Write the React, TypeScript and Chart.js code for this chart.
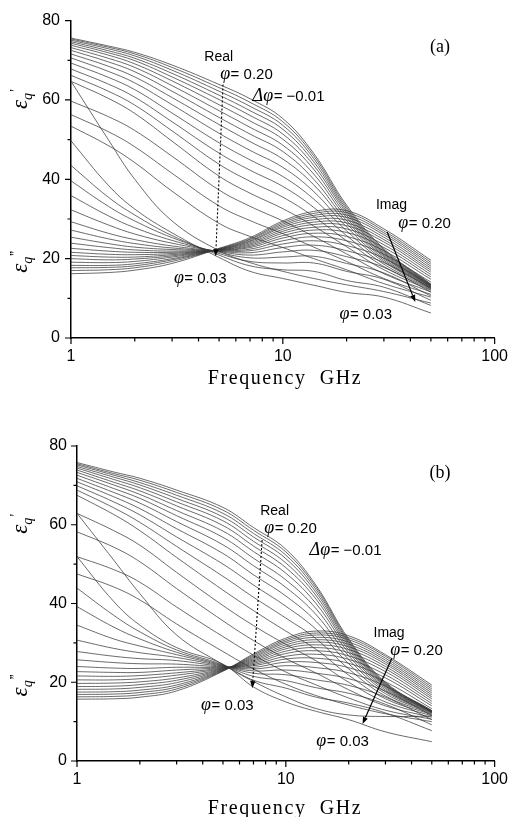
import React, { useEffect, useRef } from 'react';
import { Chart, registerables } from 'chart.js';

Chart.register(...registerables);

const FREQ = [1, 1.5, 2, 3, 5, 7, 10, 14, 20, 30, 50];
// Volume fractions, one curve each, from 0.20 down to 0.03
const PHI = ['0.20', '0.19', '0.18', '0.17', '0.16', '0.15', '0.14', '0.13', '0.12', '0.11', '0.10', '0.09', '0.08', '0.07', '0.06', '0.05', '0.04', '0.03'];

// Panel (a): real part
const REAL_A = [
  [75.6, 73.6, 72.0, 68.8, 63.9, 60.3, 55.3, 46.5, 33.5, 22.5, 13.6],
  [75.35, 73.3, 71.6, 68.2, 63.1, 59.4, 54.5, 45.9, 33.0, 22.2, 13.5],
  [75.05, 72.9, 71.1, 67.5, 62.2, 58.4, 53.6, 45.2, 32.5, 21.9, 13.4],
  [74.7, 72.4, 70.5, 66.7, 61.2, 57.3, 52.6, 44.4, 32.0, 21.6, 13.3],
  [74.3, 71.9, 69.9, 65.8, 60.1, 56.1, 51.4, 43.5, 31.5, 21.3, 13.2],
  [73.8, 71.3, 69.1, 64.8, 58.8, 54.7, 50.1, 42.5, 30.9, 21.0, 13.1],
  [73.2, 70.5, 68.2, 63.6, 57.3, 53.1, 48.6, 41.3, 30.3, 20.7, 13.0],
  [72.5, 69.6, 67.1, 62.2, 55.6, 51.4, 47.0, 40.0, 29.6, 20.4, 12.9],
  [71.6, 68.5, 65.8, 60.6, 53.8, 49.5, 45.1, 38.6, 28.9, 20.0, 12.8],
  [70.6, 67.2, 64.3, 58.8, 51.6, 47.3, 43.0, 36.9, 28.0, 19.6, 12.7],
  [69.3, 65.7, 62.6, 56.7, 49.2, 44.9, 40.7, 35.0, 27.0, 19.2, 12.6],
  [67.8, 64.0, 60.7, 54.5, 46.6, 42.3, 38.2, 32.9, 25.8, 18.6, 12.4],
  [66.2, 62.2, 58.7, 52.2, 43.8, 39.5, 35.5, 30.6, 24.5, 18.0, 12.2],
  [64.7, 60.4, 56.6, 49.6, 40.8, 36.5, 32.6, 28.2, 23.0, 17.2, 12.0],
  [59.7, 55.8, 52.3, 45.8, 37.3, 33.2, 29.5, 25.6, 21.2, 16.2, 11.6],
  [56.3, 52.0, 48.2, 41.5, 33.3, 29.6, 26.3, 22.9, 19.3, 15.0, 11.0],
  [53.4, 48.5, 44.2, 37.0, 28.9, 25.6, 22.8, 20.0, 17.2, 13.7, 10.3],
  [64.7, 50.0, 40.0, 29.5, 22.0, 19.0, 16.8, 15.0, 13.4, 11.7, 8.8],
];

// Panel (a): imaginary part
const IMAG_A = [
  [16.2, 16.5, 17.1, 18.8, 22.6, 25.3, 29.5, 31.9, 32.1, 27.5, 19.6],
  [17.0, 17.2, 17.7, 19.3, 22.5, 25.0, 29.1, 31.4, 31.6, 27.0, 19.1],
  [17.7, 17.8, 18.2, 19.7, 22.4, 24.8, 28.7, 30.9, 31.0, 26.5, 18.6],
  [18.3, 18.3, 18.7, 20.0, 22.4, 24.5, 28.3, 30.4, 30.4, 26.0, 18.1],
  [19.1, 19.0, 19.3, 20.4, 22.3, 24.3, 27.9, 29.8, 29.7, 25.4, 17.6],
  [20.0, 19.7, 19.9, 20.7, 22.3, 24.0, 27.4, 29.2, 29.0, 24.8, 17.1],
  [20.8, 20.4, 20.4, 21.0, 22.2, 23.7, 26.9, 28.6, 28.3, 24.2, 16.6],
  [21.6, 21.1, 21.0, 21.3, 22.2, 23.4, 26.4, 27.9, 27.5, 23.5, 16.0],
  [22.6, 21.9, 21.6, 21.6, 22.1, 23.1, 25.8, 27.2, 26.6, 22.8, 15.4],
  [23.9, 22.8, 22.2, 21.9, 22.1, 22.8, 25.2, 26.4, 25.6, 22.0, 14.8],
  [25.4, 23.8, 22.9, 22.3, 22.0, 22.4, 24.5, 25.5, 24.5, 21.1, 14.1],
  [27.2, 25.0, 23.8, 22.7, 22.0, 22.0, 23.7, 24.5, 23.3, 20.1, 13.3],
  [29.3, 26.4, 24.8, 23.2, 21.9, 21.5, 22.8, 23.4, 22.0, 19.0, 12.5],
  [32.3, 28.5, 26.2, 23.9, 21.8, 20.9, 21.7, 22.1, 20.5, 17.8, 11.6],
  [35.9, 30.8, 27.8, 24.6, 21.6, 20.2, 20.4, 20.6, 18.8, 16.4, 10.6],
  [39.6, 33.2, 29.5, 25.3, 21.3, 19.3, 18.9, 18.9, 16.8, 14.8, 9.5],
  [43.5, 35.5, 31.0, 25.8, 20.9, 18.2, 17.2, 16.8, 14.5, 12.8, 8.2],
  [49.7, 38.5, 32.5, 26.5, 20.3, 16.8, 15.0, 13.3, 11.5, 10.3, 6.3],
];

// Panel (b): real part
const REAL_B = [
  [75.8, 73.4, 71.8, 68.8, 64.4, 59.3, 53.8, 44.5, 31.0, 20.0, 12.8],
  [75.5, 73.0, 71.3, 68.2, 63.7, 58.6, 53.1, 44.0, 30.6, 19.8, 12.8],
  [75.2, 72.6, 70.7, 67.5, 62.9, 57.8, 52.3, 43.4, 30.2, 19.6, 12.7],
  [74.8, 72.1, 70.1, 66.7, 62.0, 56.9, 51.4, 42.7, 29.8, 19.4, 12.7],
  [74.4, 71.5, 69.4, 65.8, 61.0, 55.8, 50.3, 41.9, 29.3, 19.2, 12.6],
  [73.9, 70.8, 68.6, 64.8, 59.8, 54.6, 49.1, 41.0, 28.8, 19.0, 12.6],
  [73.3, 70.1, 67.7, 63.6, 58.4, 53.2, 47.7, 39.9, 28.2, 18.7, 12.5],
  [72.6, 69.2, 66.7, 62.3, 56.8, 51.5, 46.0, 38.6, 27.5, 18.4, 12.5],
  [71.8, 68.2, 65.5, 60.8, 54.9, 49.6, 44.1, 37.1, 26.7, 18.0, 12.4],
  [70.9, 67.1, 64.1, 59.0, 52.7, 47.3, 41.9, 35.4, 25.8, 17.6, 12.3],
  [69.9, 65.8, 62.5, 56.9, 50.0, 44.7, 39.3, 33.4, 24.7, 17.1, 12.2],
  [68.8, 64.3, 60.6, 54.5, 46.9, 41.6, 36.3, 31.0, 23.4, 16.5, 12.0],
  [67.5, 62.6, 58.5, 51.7, 43.4, 38.2, 33.0, 28.3, 21.8, 15.8, 11.8],
  [62.9, 58.5, 54.8, 47.9, 39.5, 34.4, 29.6, 25.4, 20.0, 15.0, 11.5],
  [58.2, 54.3, 50.6, 43.8, 35.6, 30.6, 26.0, 22.3, 18.1, 14.0, 11.1],
  [51.9, 48.6, 45.4, 39.1, 31.6, 26.9, 22.6, 19.3, 16.0, 12.9, 10.6],
  [47.5, 44.2, 40.9, 34.8, 27.8, 23.4, 19.5, 16.6, 14.2, 12.0, 10.0],
  [62.9, 51.0, 42.5, 32.0, 24.5, 20.2, 16.3, 13.3, 11.7, 11.3, 11.4],
];

// Panel (b): imaginary part
const IMAG_B = [
  [15.7, 15.8, 16.2, 17.8, 22.8, 27.2, 31.2, 33.0, 31.8, 27.0, 19.3],
  [16.3, 16.4, 16.8, 18.3, 22.9, 26.9, 30.8, 32.5, 31.3, 26.6, 18.8],
  [16.9, 17.0, 17.4, 18.8, 23.0, 26.6, 30.4, 32.0, 30.8, 26.1, 18.3],
  [17.5, 17.6, 18.0, 19.3, 23.1, 26.3, 30.0, 31.4, 30.2, 25.6, 17.8],
  [18.2, 18.3, 18.7, 19.9, 23.2, 26.0, 29.5, 30.8, 29.6, 25.1, 17.3],
  [18.9, 19.0, 19.4, 20.5, 23.3, 25.7, 29.0, 30.2, 29.0, 24.6, 16.8],
  [19.7, 19.8, 20.1, 21.1, 23.4, 25.4, 28.5, 29.5, 28.3, 24.0, 16.3],
  [20.6, 20.6, 20.9, 21.8, 23.5, 25.1, 27.9, 28.8, 27.5, 23.4, 15.8],
  [21.6, 21.5, 21.7, 22.4, 23.6, 24.8, 27.3, 28.0, 26.7, 22.7, 15.2],
  [22.7, 22.5, 22.5, 23.1, 23.7, 24.5, 26.6, 27.1, 25.8, 21.9, 14.6],
  [24.0, 23.6, 23.5, 23.8, 23.8, 24.2, 25.9, 26.1, 24.8, 21.1, 14.0],
  [25.7, 25.0, 24.7, 24.6, 23.9, 23.8, 25.1, 25.0, 23.7, 20.1, 13.3],
  [27.8, 26.6, 26.0, 25.5, 24.0, 23.4, 24.2, 23.7, 22.4, 19.0, 12.5],
  [30.7, 28.6, 27.5, 26.3, 24.1, 22.9, 23.1, 22.3, 20.9, 17.7, 11.6],
  [34.5, 31.0, 29.2, 27.0, 24.2, 22.3, 21.9, 20.6, 19.2, 16.2, 10.5],
  [39.2, 34.0, 31.0, 27.6, 24.3, 21.5, 20.4, 18.6, 17.2, 14.4, 9.2],
  [43.9, 37.0, 32.8, 28.2, 24.4, 20.5, 18.5, 16.2, 14.7, 12.2, 7.7],
  [51.9, 40.5, 34.5, 28.8, 24.6, 18.8, 15.0, 12.6, 10.5, 7.4, 4.9],
];

// Axis ticks
const X_MAJOR = [1, 10, 100];
const X_MINOR = [2, 3, 4, 5, 6, 7, 8, 9, 20, 30, 40, 50, 60, 70, 80, 90];
const Y_MAJOR = [0, 20, 40, 60, 80];
const Y_MINOR = [10, 30, 50, 70];

const SANS = '"Liberation Sans", Arial, sans-serif';
const SERIF = '"Liberation Serif", "Times New Roman", serif';

type Pt = [number, number];
interface Notes {
  real: Pt; phiR: Pt; dphi: Pt; letter: Pt;
  arrowR: [Pt, Pt]; phi03R: Pt;
  imag: Pt; phiI: Pt; arrowI: [Pt, Pt]; phi03I: Pt;
}

const NOTES_A: Notes = {
  real: [4.26, 69.7], phiR: [5.06, 65.2], dphi: [7.2, 59.7], letter: [49.5, 72.2],
  arrowR: [[5.22, 63.9], [4.82, 20.6]], phi03R: [3.06, 13.8],
  imag: [27.5, 32.4], phiI: [35.1, 27.6], arrowI: [[31.1, 26.7], [42.2, 9.1]], phi03I: [18.5, 4.8],
};
const NOTES_B: Notes = {
  real: [7.54, 62.5], phiR: [7.88, 57.9], dphi: [13.0, 52.3], letter: [48.8, 71.9],
  arrowR: [[7.7, 56.1], [6.91, 18.5]], phi03R: [3.93, 13.0],
  imag: [26.3, 31.5], phiI: [31.6, 26.9], arrowI: [[32.2, 26.1], [23.3, 9.4]], phi03I: [14.0, 3.8],
};

interface PanelCfg {
  real: number[][]; imag: number[][]; letter: string; notes: Notes;
  top: number; height: number; yWidth: number; padTop: number; xHeight: number; yPad: number; titleOff: number;
}

const PANELS: PanelCfg[] = [
  { real: REAL_A, imag: IMAG_A, letter: '(a)', notes: NOTES_A, top: 0, height: 410, yWidth: 71, padTop: 19, xHeight: 72, yPad: 11, titleOff: 45.5 },
  { real: REAL_B, imag: IMAG_B, letter: '(b)', notes: NOTES_B, top: 410, height: 407, yWidth: 77, padTop: 36, xHeight: 56, yPad: 10, titleOff: 52.5 },
];

function drawArrow(ctx: CanvasRenderingContext2D, x1: number, y1: number, x2: number, y2: number, dashed: boolean) {
  const ang = Math.atan2(y2 - y1, x2 - x1);
  const hl = 7, hw = 2.6;
  const bx = x2 - hl * Math.cos(ang), by = y2 - hl * Math.sin(ang);
  ctx.save();
  ctx.strokeStyle = '#000';
  ctx.lineWidth = dashed ? 1.1 : 1.2;
  ctx.setLineDash(dashed ? [2, 2] : []);
  ctx.beginPath();
  ctx.moveTo(x1, y1);
  ctx.lineTo(bx, by);
  ctx.stroke();
  ctx.setLineDash([]);
  ctx.fillStyle = '#000';
  ctx.beginPath();
  ctx.moveTo(x2, y2);
  ctx.lineTo(bx + hw * Math.sin(ang), by - hw * Math.cos(ang));
  ctx.lineTo(bx - hw * Math.sin(ang), by + hw * Math.cos(ang));
  ctx.closePath();
  ctx.fill();
  ctx.restore();
}

function drawPhi(ctx: CanvasRenderingContext2D, x: number, y: number, sym: string, rest: string) {
  ctx.font = `italic 18px ${SERIF}`;
  ctx.fillText(sym, x, y);
  const w = ctx.measureText(sym).width;
  ctx.font = `15px ${SANS}`;
  ctx.fillText(rest, x + w + 0.5, y);
}

function drawEps(ctx: CanvasRenderingContext2D, bx: number, cy: number, prime: string) {
  ctx.save();
  ctx.translate(bx, cy);
  ctx.rotate(-Math.PI / 2);
  ctx.textBaseline = 'alphabetic';
  ctx.textAlign = 'left';
  ctx.font = `italic 23px ${SERIF}`;
  const we = ctx.measureText('ε').width;
  ctx.font = `italic 14px ${SERIF}`;
  const wq = ctx.measureText('q').width;
  const total = we + wq + 6;
  let x = -total / 2;
  ctx.font = `italic 23px ${SERIF}`;
  ctx.fillText('ε', x, 0);
  x += we;
  ctx.font = `italic 14px ${SERIF}`;
  ctx.fillText('q', x, 5);
  x += wq + 1;
  ctx.font = `14px ${SANS}`;
  ctx.fillText(prime, x, -7);
  ctx.restore();
}

function makeDecor(cfg: PanelCfg) {
  return {
    id: 'decor',
    afterDraw(chart: any) {
      const ctx: CanvasRenderingContext2D = chart.ctx;
      const xs = chart.scales.x, ys = chart.scales.y;
      const area = chart.chartArea;
      const P = (p: Pt) => [xs.getPixelForValue(p[0]), ys.getPixelForValue(p[1])];
      ctx.save();
      // tick marks
      ctx.strokeStyle = '#000';
      ctx.lineWidth = 1.2;
      ctx.beginPath();
      Y_MAJOR.forEach((v) => { const py = ys.getPixelForValue(v); ctx.moveTo(area.left - 6, py); ctx.lineTo(area.left, py); });
      Y_MINOR.forEach((v) => { const py = ys.getPixelForValue(v); ctx.moveTo(area.left - 3.5, py); ctx.lineTo(area.left, py); });
      X_MAJOR.forEach((v) => { const px = xs.getPixelForValue(v); ctx.moveTo(px, area.bottom); ctx.lineTo(px, area.bottom + 6); });
      X_MINOR.forEach((v) => { const px = xs.getPixelForValue(v); ctx.moveTo(px, area.bottom); ctx.lineTo(px, area.bottom + 3.5); });
      ctx.stroke();

      ctx.fillStyle = '#000';
      ctx.textAlign = 'left';
      ctx.textBaseline = 'alphabetic';
      const n = cfg.notes;
      let p = P(n.real);
      ctx.font = `14px ${SANS}`;
      ctx.fillText('Real', p[0], p[1]);
      p = P(n.phiR); drawPhi(ctx, p[0], p[1], 'φ', '= 0.20');
      p = P(n.dphi); drawPhi(ctx, p[0], p[1], 'Δφ', '= \u22120.01');
      p = P(n.phi03R); drawPhi(ctx, p[0], p[1], 'φ', '= 0.03');
      p = P(n.imag);
      ctx.font = `14px ${SANS}`;
      ctx.fillText('Imag', p[0], p[1]);
      p = P(n.phiI); drawPhi(ctx, p[0], p[1], 'φ', '= 0.20');
      p = P(n.phi03I); drawPhi(ctx, p[0], p[1], 'φ', '= 0.03');
      p = P(n.letter);
      ctx.font = `18px ${SERIF}`;
      ctx.fillText(cfg.letter, p[0], p[1]);
      let a = P(n.arrowR[0]), b = P(n.arrowR[1]);
      drawArrow(ctx, a[0], a[1], b[0], b[1], true);
      a = P(n.arrowI[0]); b = P(n.arrowI[1]);
      drawArrow(ctx, a[0], a[1], b[0], b[1], false);
      ctx.font = `20px ${SERIF}`;
      (ctx as any).letterSpacing = '1.6px';
      ctx.textAlign = 'center';
      ctx.fillText('Frequency  GHz', 285, area.bottom + cfg.titleOff);
      (ctx as any).letterSpacing = '0px';
      drawEps(ctx, 27, ys.getPixelForValue(60.5), '\u2019');
      drawEps(ctx, 27, ys.getPixelForValue(19.2), '\u201D');
      ctx.restore();
    },
  };
}

function Panel({ cfg }: { cfg: PanelCfg }) {
  const ref = useRef<HTMLCanvasElement | null>(null);
  useEffect(() => {
    if (!ref.current) return;
    const mk = (rows: number[][], kind: string) =>
      rows.map((row, k) => ({
        label: `${kind} φ=${PHI[k]}`,
        data: FREQ.map((f, i) => ({ x: f, y: row[i] })),
        borderColor: '#3a3a3a',
        borderWidth: 0.75,
        pointRadius: 0,
        fill: false,
        tension: 0.4,
      }));
    const tickFont = { family: SANS, size: 16 };
    const chart = new Chart(ref.current, {
      type: 'line',
      data: { datasets: [...mk(cfg.real, 'Real'), ...mk(cfg.imag, 'Imag')] },
      options: {
        animation: false,
        responsive: false,
        maintainAspectRatio: false,
        layout: { padding: { left: 0, right: 16, top: cfg.padTop, bottom: 0 } },
        plugins: { legend: { display: false }, tooltip: { enabled: false } },
        scales: {
          x: {
            type: 'logarithmic',
            min: 1,
            max: 100,
            afterBuildTicks: (s: any) => { s.ticks = X_MAJOR.map((v) => ({ value: v })); },
            afterFit: (s: any) => { s.height = cfg.xHeight; },
            ticks: { callback: (v: any) => String(v), font: tickFont, color: '#000', padding: 9, maxRotation: 0, autoSkip: false },
            grid: { display: false, drawTicks: false },
            border: { display: true, color: '#000', width: 1.5 },
          },
          y: {
            type: 'linear',
            min: 0,
            max: 80,
            afterBuildTicks: (s: any) => { s.ticks = Y_MAJOR.map((v) => ({ value: v })); },
            afterFit: (s: any) => { s.width = cfg.yWidth; },
            ticks: { callback: (v: any) => String(v), font: tickFont, color: '#000', padding: cfg.yPad },
            grid: { display: false, drawTicks: false },
            border: { display: true, color: '#000', width: 1.5 },
          },
        },
      },
      plugins: [makeDecor(cfg)],
    } as any);
    return () => chart.destroy();
  }, [cfg]);
  return (
    <canvas
      ref={ref}
      width={517}
      height={cfg.height}
      style={{ position: 'absolute', left: 0, top: cfg.top, width: 517, height: cfg.height }}
    />
  );
}

export default function App() {
  return (
    <div style={{ position: 'absolute', left: 0, top: 0, width: 517, height: 817, background: '#fff' }}>
      {PANELS.map((cfg, i) => (
        <Panel key={i} cfg={cfg} />
      ))}
    </div>
  );
}
